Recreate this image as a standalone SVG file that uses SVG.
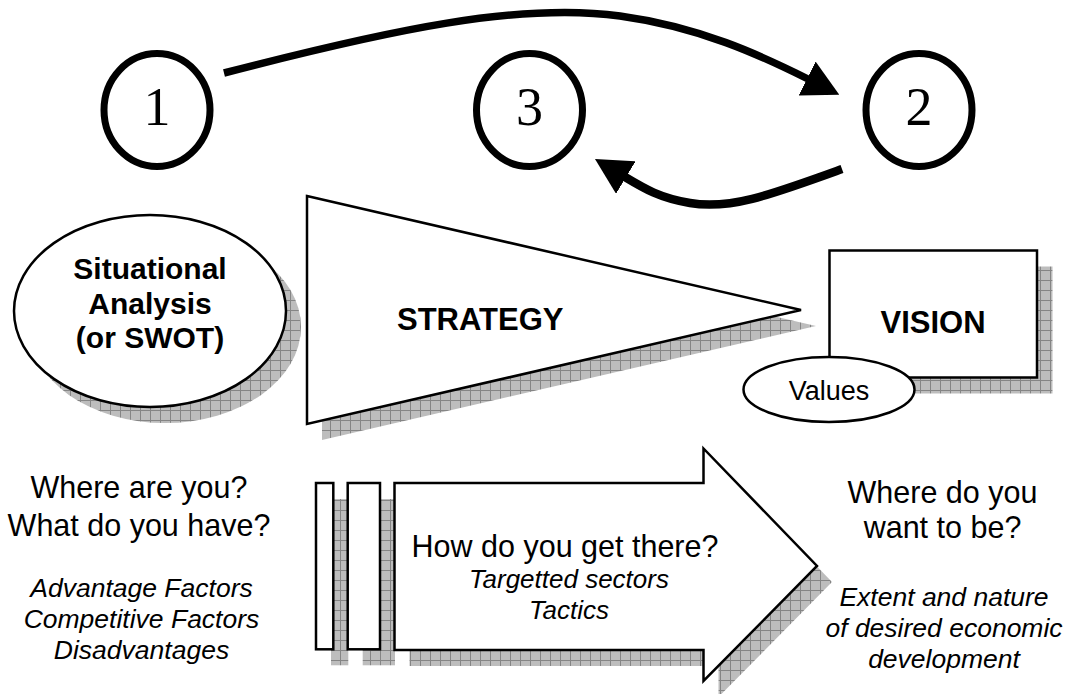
<svg xmlns="http://www.w3.org/2000/svg" width="1070" height="694" viewBox="0 0 1070 694">
<style>
.bg{fill:#fff}
.num{fill:#fff;stroke:#000;stroke-width:7}
.digit{font-family:"Liberation Serif","Times New Roman",serif;font-size:54px;fill:#000;text-anchor:middle}
.shape{fill:#fff;stroke:#000;stroke-width:2.5}
.shadow{fill:url(#hatch);stroke:none}
.conn{fill:none;stroke:#000;stroke-linecap:butt}
.bold{font-family:"Liberation Sans",Arial,sans-serif;font-weight:bold;font-size:30px;fill:#000;text-anchor:middle}
.reg{font-family:"Liberation Sans",Arial,sans-serif;font-size:30.5px;fill:#000;text-anchor:middle}
.ital{font-family:"Liberation Sans",Arial,sans-serif;font-style:italic;font-size:26.5px;fill:#000;text-anchor:middle}
</style>
<defs>
<pattern id="hatch" patternUnits="userSpaceOnUse" width="10" height="10">
<rect width="10" height="10" fill="#bdbdbd"/>
<path d="M0,0.5H10M0.5,0V10" stroke="#858585" stroke-width="1"/>
</pattern>
<marker id="head" viewBox="0 0 36 38" markerWidth="36" markerHeight="38" markerUnits="userSpaceOnUse" refX="1" refY="19" orient="auto">
<path d="M0,0 L36,19 L0,38 z" fill="#000"/>
</marker>
</defs>
<rect class="bg" x="0" y="0" width="1070" height="694"/>

<g id="connectors">
<path class="conn" stroke-width="7.5" d="M224,73 C390,30 520,2 620,16 C700,27 760,55 808,79" marker-end="url(#head)"/>
<path class="conn" stroke-width="8.5" d="M842,169 C770,195 730,210 690,203 C660,198 645,189 625,177" marker-end="url(#head)"/>
</g>

<g id="step1">
<ellipse class="num" cx="157" cy="110" rx="53" ry="56.5"/>
<text class="digit" x="157" y="125">1</text>
</g>
<g id="step3">
<ellipse class="num" cx="529.5" cy="110" rx="53" ry="56.5"/>
<text class="digit" x="529.5" y="125">3</text>
</g>
<g id="step2">
<ellipse class="num" cx="919" cy="110" rx="53" ry="56.5"/>
<text class="digit" x="919" y="125">2</text>
</g>

<g id="situational">
<ellipse class="shadow" cx="165" cy="327" rx="136" ry="96"/>
<ellipse class="shape" cx="150" cy="311" rx="136" ry="96" stroke-width="2"/>
<text class="bold" x="150" y="279">Situational</text>
<text class="bold" x="150" y="314">Analysis</text>
<text class="bold" x="150" y="348">(or SWOT)</text>
</g>

<g id="strategy">
<polygon class="shadow" points="322,212 816,326 322,440"/>
<polygon class="shape" points="307,196 801,310 307,424"/>
<text class="bold" x="397" y="330" style="text-anchor:start;font-size:31px">STRATEGY</text>
</g>

<g id="vision">
<rect class="shadow" x="845" y="266.5" width="207.5" height="127"/>
<rect class="shape" x="829.5" y="250.5" width="207.5" height="127" stroke-width="3"/>
<text class="bold" x="933" y="333" style="font-size:31px">VISION</text>
</g>

<g id="values">
<ellipse class="shape" cx="829" cy="389.5" rx="85.5" ry="32.5" stroke-width="1.5"/>
<text class="reg" x="829" y="400" style="font-size:27px">Values</text>
</g>

<g id="tactics-arrow">
<rect class="shadow" x="331" y="499" width="17.3" height="166.3"/>
<rect class="shadow" x="362.7" y="499" width="32.3" height="166.3"/>
<polygon class="shadow" points="409.5,499 718.5,499 718.5,464.5 832,582 718.5,697 718.5,666 409.5,666"/>
<rect class="shape" x="316" y="483" width="17.3" height="166.3"/>
<rect class="shape" x="347.7" y="483" width="32.3" height="166.3"/>
<polygon class="shape" points="394.5,483 703.5,483 703.5,448.5 817,566 703.5,681 703.5,650 394.5,650"/>
<text class="reg" x="565" y="557">How do you get there?</text>
<text class="ital" x="569" y="588" style="font-size:26px">Targetted sectors</text>
<text class="ital" x="569" y="619" style="font-size:26px">Tactics</text>
</g>

<g id="where-now">
<text class="reg" x="139" y="498">Where are you?</text>
<text class="reg" x="139" y="536">What do you have?</text>
<text class="ital" x="141.5" y="597">Advantage Factors</text>
<text class="ital" x="141.5" y="628">Competitive Factors</text>
<text class="ital" x="141.5" y="659">Disadvantages</text>
</g>

<g id="where-future">
<text class="reg" x="942.5" y="503">Where do you</text>
<text class="reg" x="942.5" y="538">want to be?</text>
<text class="ital" x="944" y="606">Extent and nature</text>
<text class="ital" x="944" y="637">of desired economic</text>
<text class="ital" x="944" y="668">development</text>
</g>
</svg>
